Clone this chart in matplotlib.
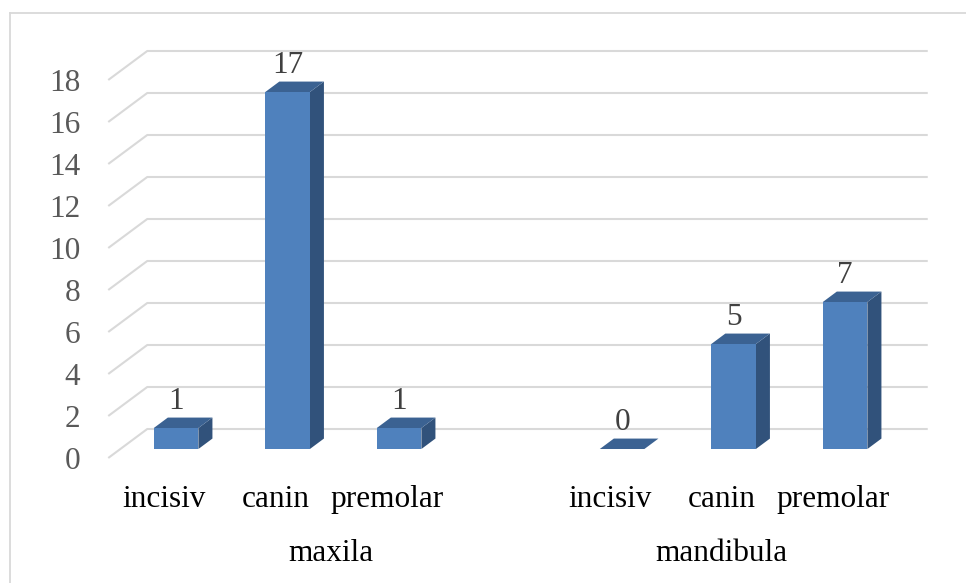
import matplotlib
matplotlib.use("Agg")
import matplotlib.pyplot as plt
from matplotlib.patches import Polygon, Rectangle
from matplotlib.lines import Line2D
from matplotlib.transforms import blended_transform_factory

plt.rcParams['font.family'] = ['Liberation Serif', 'DejaVu Serif']

# Data
groups = ["maxila", "mandibula"]
categories = ["incisiv", "canin", "premolar"]
maxila_values = [1, 17, 1]
mandibula_values = [0, 5, 7]
y_ticks = list(range(0, 19, 2))

# Slot layout: three categories, an empty slot, three categories
slots = [0, 1, 2, 4, 5, 6]
values = maxila_values + mandibula_values
labels = categories + categories
group_centers = [1.5, 5.0]

# Styling
FRONT = "#4F81BD"
TOP = "#3B6292"
SIDE = "#31527B"
GRID = "#D9D9D9"
TICK_COLOR = "#595959"
LABEL_COLOR = "#404040"
FS = 22.5

W, H = 966, 583
fig = plt.figure(figsize=(W / 100, H / 100), dpi=100)

# Plot area (front plane of the floor)
ax_left, ax_right = 108.25, 888.75
ax_bottom, ax_top = 125, 503
ax = fig.add_axes([ax_left / W, ax_bottom / H, (ax_right - ax_left) / W, (ax_top - ax_bottom) / H])
ax.set_xlim(-0.5, 6.5)
ax.set_ylim(0, 18)
for s in ax.spines.values():
    s.set_visible(False)
ax.set_facecolor("none")

# Pseudo-3D depth: full depth of the chart floor in data units
px_per_x = (ax_right - ax_left) / 7.0
px_per_y = (ax_top - ax_bottom) / 18.0
DX = 39 / px_per_x
DY = 29 / px_per_y
d_front, d_back = 0.31, 0.67
bar_w = 0.40

# Gridlines: slanted side wall edge + horizontal line on the back wall
for v in y_ticks:
    xs = [-0.5, -0.5 + DX, 6.5 + DX]
    ys = [v, v + DY, v + DY]
    ax.add_line(Line2D(xs, ys, color=GRID, lw=1.5, clip_on=False, zorder=1,
                       solid_capstyle="butt"))

ax.set_yticks(y_ticks)
ax.set_yticklabels([str(t) for t in y_ticks])
ax.tick_params(axis="y", length=0, pad=20.3, labelsize=FS, labelcolor=TICK_COLOR)
ax.set_xticks([])

# Bars
for x, v in zip(slots, values):
    fx0 = x - bar_w / 2 + d_front * DX
    fx1 = x + bar_w / 2 + d_front * DX
    fy0 = d_front * DY
    fy1 = v + d_front * DY
    bx0 = x - bar_w / 2 + d_back * DX
    bx1 = x + bar_w / 2 + d_back * DX
    by0 = d_back * DY
    by1 = v + d_back * DY
    ax.add_patch(Polygon([(fx1, fy0), (bx1, by0), (bx1, by1), (fx1, fy1)],
                         closed=True, facecolor=SIDE, edgecolor="none",
                         clip_on=False, zorder=3))
    ax.add_patch(Polygon([(fx0, fy1), (fx1, fy1), (bx1, by1), (bx0, by1)],
                         closed=True, facecolor=TOP, edgecolor="none",
                         clip_on=False, zorder=3))
    if v > 0:
        ax.add_patch(Rectangle((fx0, fy0), fx1 - fx0, fy1 - fy0,
                               facecolor=FRONT, edgecolor="none",
                               clip_on=False, zorder=4))
    ax.annotate(str(v), xy=((fx0 + fx1) / 2, fy1), xytext=(0, 13.7),
                textcoords="offset points", ha="center", va="baseline",
                fontsize=FS, color=LABEL_COLOR, zorder=5, annotation_clip=False)

# Category and group labels
trans = blended_transform_factory(ax.transData, fig.transFigure)
for x, lab in zip(slots, labels):
    ax.text(x, (H - 507) / H, lab, transform=trans, ha="center", va="baseline",
            fontsize=FS, color="black", clip_on=False)
for x, g in zip(group_centers, groups):
    ax.text(x, (H - 561) / H, g, transform=trans, ha="center", va="baseline",
            fontsize=FS, color="black", clip_on=False)

# Chart-area border (left and top edges visible)
fig.add_artist(Line2D([9.5 / W, 9.5 / W], [0, (H - 13) / H], color=GRID, lw=1.3,
                      transform=fig.transFigure))
fig.add_artist(Line2D([9.5 / W, 1.0], [(H - 13) / H, (H - 13) / H], color=GRID, lw=1.3,
                      transform=fig.transFigure))

fig.savefig("out.png", dpi=100)
